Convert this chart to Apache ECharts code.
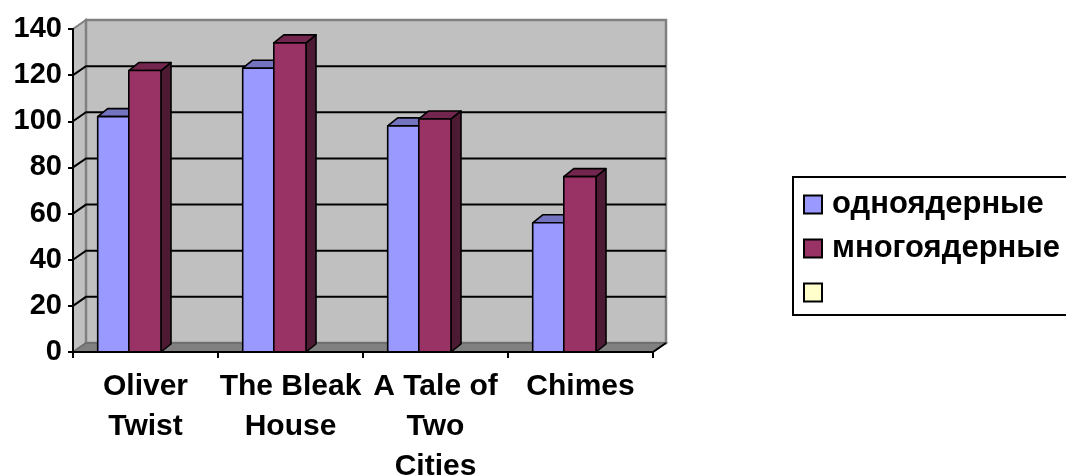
<!DOCTYPE html>
<html>
<head>
<meta charset="utf-8">
<script src="https://cdn.jsdelivr.net/npm/echarts@6/dist/echarts.min.js"></script>
<style>
  html, body { margin: 0; padding: 0; background: #fff; }
  #chart { width: 1066px; height: 475px; }
</style>
</head>
<body>
<div id="chart"></div>
<script>
// Novels and cell counts per novel
const categories = ['Oliver\nTwist', 'The Bleak\nHouse', 'A Tale of\nTwo\nCities', 'Chimes'];
const seriesNames = ['одноядерные', 'многоядерные', ' '];
const singleCore = [102, 123, 98, 56];
const multiCore = [122, 134, 101, 76];
const yTicks = [0, 20, 40, 60, 80, 100, 120, 140];

// 3D look: depth shift of the back wall and of the bar tops/sides
const WALL_DX = 13, WALL_DY = -9;
const BAR_DX = 10, BAR_DY = -8;
const FONT = '"Liberation Sans", Arial, sans-serif';

// Bar span inside a band, as fractions of the band width
const BAND_PX = 145;
const barSpan = [
  [24.7 / BAND_PX, 55.8 / BAND_PX],
  [55.8 / BAND_PX, 88.0 / BAND_PX]
];
const barColors = [
  { front: '#9999FF', top: '#7373C0', side: '#4D4D80' },
  { front: '#993366', top: '#73264D', side: '#4D1A33' }
];
const emptyColor = '#FFFFCC';

function barRenderer(k) {
  return function (params, api) {
    const idx = api.value(0), val = api.value(1);
    const base = api.coord([idx, 0]);
    const top = api.coord([idx, val]);
    const band = api.size([1, 0])[0];
    const x0 = base[0] - band / 2 + band * barSpan[k][0];
    const x1 = base[0] - band / 2 + band * barSpan[k][1];
    const y0 = base[1], y1 = top[1];
    const c = barColors[k];
    const stroke = { stroke: '#000', lineWidth: 1.6, lineJoin: 'round' };
    return {
      type: 'group',
      children: [
        { type: 'polygon', shape: { points: [[x1, y0], [x1, y1], [x1 + BAR_DX, y1 + BAR_DY], [x1 + BAR_DX, y0 + BAR_DY]] },
          style: Object.assign({ fill: c.side }, stroke) },
        { type: 'polygon', shape: { points: [[x0, y1], [x1, y1], [x1 + BAR_DX, y1 + BAR_DY], [x0 + BAR_DX, y1 + BAR_DY]] },
          style: Object.assign({ fill: c.top }, stroke) },
        { type: 'rect', shape: { x: x0, y: y1, width: x1 - x0, height: y0 - y1 },
          style: Object.assign({ fill: c.front }, stroke) }
      ]
    };
  };
}

// Walls, floor and gridlines, placed from the value axis
function frameRenderer(params, api) {
  const cs = params.coordSys;
  const left = cs.x, right = cs.x + cs.width;
  const v = api.value(0);
  const y = api.coord([0, v])[1];
  const children = [];
  if (params.dataIndex === 0) {
    const yb = api.coord([0, 0])[1];
    const yt = api.coord([0, yTicks[yTicks.length - 1]])[1];
    children.push(
      { type: 'polygon', shape: { points: [[left, yb], [left, yt], [left + WALL_DX, yt + WALL_DY], [left + WALL_DX, yb + WALL_DY]] },
        style: { fill: '#C0C0C0', stroke: '#808080', lineWidth: 2 } },
      { type: 'rect', shape: { x: left + WALL_DX, y: yt + WALL_DY, width: right - left, height: yb - yt },
        style: { fill: '#C0C0C0', stroke: '#808080', lineWidth: 2.5 } },
      { type: 'polygon', shape: { points: [[left, yb], [right, yb], [right + WALL_DX, yb + WALL_DY], [left + WALL_DX, yb + WALL_DY]] },
        style: { fill: '#808080', stroke: '#6a6a6a', lineWidth: 1.5 } },
      { type: 'line', shape: { x1: right, y1: yb, x2: right + WALL_DX, y2: yb + WALL_DY },
        style: { stroke: '#000', lineWidth: 2 } }
    );
  } else if (v < yTicks[yTicks.length - 1]) {
    children.push({
      type: 'polyline',
      shape: { points: [[left, y], [left + WALL_DX, y + WALL_DY], [right + WALL_DX, y + WALL_DY]] },
      style: { stroke: '#000', lineWidth: 2, fill: null }
    });
  }
  return { type: 'group', children: children };
}

const chart = echarts.init(document.getElementById('chart'), null, { renderer: 'canvas' });

chart.setOption({
  animation: false,
  backgroundColor: '#fff',
  grid: { left: 73, right: 413, top: 29, bottom: 123, containLabel: false, outerBoundsMode: 'none' },
  legend: {
    left: 793,
    top: 177,
    orient: 'vertical',
    selectedMode: false,
    backgroundColor: '#fff',
    borderColor: '#000',
    borderWidth: 2,
    borderRadius: 0,
    padding: [12, 30, 7, 10],
    itemWidth: 18,
    itemHeight: 18,
    itemGap: 13,
    textStyle: { color: '#000', fontFamily: FONT, fontWeight: 'bold', fontSize: 31, padding: [0, 0, 0, 5] },
    data: [
      { name: seriesNames[0], icon: 'rect', itemStyle: { color: barColors[0].front, borderColor: '#000', borderWidth: 2 } },
      { name: seriesNames[1], icon: 'rect', itemStyle: { color: barColors[1].front, borderColor: '#000', borderWidth: 2 } },
      { name: seriesNames[2], icon: 'rect', itemStyle: { color: emptyColor, borderColor: '#000', borderWidth: 2 } }
    ]
  },
  xAxis: {
    type: 'category',
    data: categories,
    z: 5,
    axisLine: { lineStyle: { color: '#000', width: 2 } },
    axisTick: { show: true, length: 6, lineStyle: { color: '#000', width: 2 } },
    axisLabel: {
      color: '#000', fontFamily: FONT, fontWeight: 'bold', fontSize: 30,
      lineHeight: 40, margin: 15, interval: 0
    },
    splitLine: { show: false }
  },
  yAxis: {
    type: 'value',
    min: 0,
    max: 140,
    interval: 20,
    z: 5,
    axisLine: { show: true, lineStyle: { color: '#000', width: 2 } },
    axisTick: { show: true, length: 5, lineStyle: { color: '#000', width: 2 } },
    axisLabel: { color: '#000', fontFamily: FONT, fontWeight: 'bold', fontSize: 29, margin: 11 },
    splitLine: { show: false }
  },
  series: [
    {
      name: 'frame',
      type: 'custom',
      z: 1,
      silent: true,
      renderItem: frameRenderer,
      data: yTicks.map(v => [v])
    },
    {
      name: seriesNames[0],
      type: 'custom',
      z: 2,
      itemStyle: { color: barColors[0].front },
      renderItem: barRenderer(0),
      data: singleCore.map((v, i) => [i, v])
    },
    {
      name: seriesNames[1],
      type: 'custom',
      z: 3,
      itemStyle: { color: barColors[1].front },
      renderItem: barRenderer(1),
      data: multiCore.map((v, i) => [i, v])
    },
    {
      name: seriesNames[2],
      type: 'custom',
      itemStyle: { color: emptyColor },
      renderItem: barRenderer(0),
      data: []
    }
  ]
});
</script>
</body>
</html>
